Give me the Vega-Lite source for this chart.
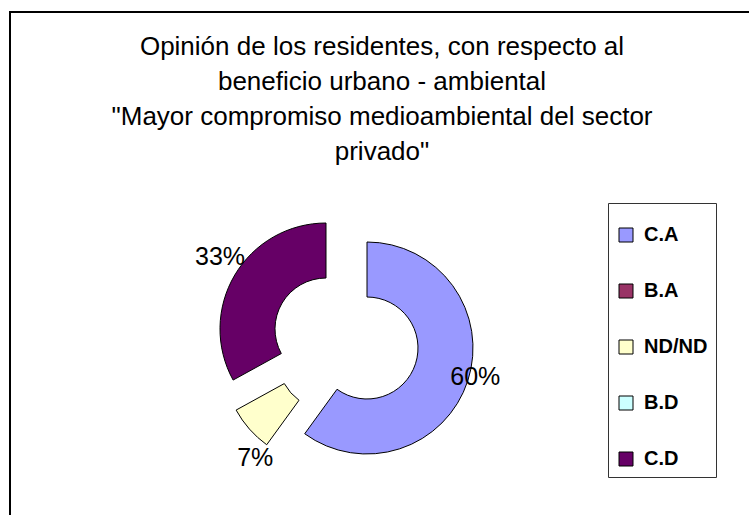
{
  "$schema": "https://vega.github.io/schema/vega-lite/v6.json",
  "autosize": {"type": "fit", "contains": "padding"},
  "width": 749,
  "height": 515,
  "padding": {"left": 9, "top": 11, "right": -10, "bottom": -10},
  "background": "white",
  "config": {
    "view": {"stroke": "black", "strokeWidth": 2},
    "font": "Liberation Sans"
  },
  "title": {
    "text": ["Opinión de los residentes, con respecto al", "beneficio urbano - ambiental", "\"Mayor compromiso medioambiental del sector", "privado\""],
    "font": "Liberation Sans",
    "fontSize": 26,
    "fontWeight": "normal",
    "lineHeight": 35,
    "color": "black",
    "anchor": "middle",
    "frame": "group",
    "offset": -154,
    "dx": -2
  },
  "data": {
    "values": [
      {"cat": "C.A", "value": 0.60, "order": 1},
      {"cat": "B.A", "value": 0.00, "order": 2},
      {"cat": "ND/ND", "value": 0.07, "order": 3},
      {"cat": "B.D", "value": 0.00, "order": 4},
      {"cat": "C.D", "value": 0.33, "order": 5}
    ]
  },
  "transform": [
    {"stack": "value", "groupby": [], "sort": [{"field": "order", "order": "ascending"}], "as": ["v0", "v1"]}
  ],
  "layer": [
    {
      "data": {"values": [{"frame": 1}]},
      "mark": {"type": "rect", "fill": "white", "stroke": "black", "strokeWidth": 2},
      "encoding": {}
    },
    {
      "transform": [{"filter": "datum.cat === 'C.A'"}],
      "mark": {"type": "arc", "outerRadius": 106, "innerRadius": 51, "stroke": "black", "strokeWidth": 1, "xOffset": -17, "yOffset": 80},
      "encoding": {
        "theta": {"field": "v0", "type": "quantitative", "scale": {"domain": [0, 1]}},
        "theta2": {"field": "v1"},
        "color": {"field": "cat", "type": "nominal"}
      }
    },
    {
      "transform": [{"filter": "datum.cat === 'ND/ND'"}],
      "mark": {"type": "arc", "outerRadius": 106, "innerRadius": 51, "stroke": "black", "strokeWidth": 1, "xOffset": -55, "yOffset": 91},
      "encoding": {
        "theta": {"field": "v0", "type": "quantitative", "scale": {"domain": [0, 1]}},
        "theta2": {"field": "v1"},
        "color": {"field": "cat", "type": "nominal"}
      }
    },
    {
      "transform": [{"filter": "datum.cat === 'C.D'"}],
      "mark": {"type": "arc", "outerRadius": 106, "innerRadius": 51, "stroke": "black", "strokeWidth": 1, "xOffset": -58, "yOffset": 61},
      "encoding": {
        "theta": {"field": "v0", "type": "quantitative", "scale": {"domain": [0, 1]}},
        "theta2": {"field": "v1"},
        "color": {
          "field": "cat",
          "type": "nominal",
          "scale": {
            "domain": ["C.A", "B.A", "ND/ND", "B.D", "C.D"],
            "range": ["#9999FF", "#993366", "#FFFFCC", "#CCFFFF", "#660066"]
          },
          "legend": {
            "title": " ",
            "titleFontSize": 10,
            "titlePadding": 4,
            "orient": "none",
            "legendX": 598,
            "legendY": 191,
            "padding": 8,
            "strokeColor": "#333333",
            "fillColor": "white",
            "symbolType": "square",
            "symbolSize": 196,
            "symbolStrokeColor": "black",
            "symbolStrokeWidth": 1,
            "symbolOpacity": 1,
            "labelFont": "Liberation Sans",
            "labelFontSize": 20,
            "labelFontWeight": "bold",
            "labelColor": "black",
            "labelOffset": 8,
            "rowPadding": 36
          }
        }
      }
    },
    {
      "mark": {"type": "text", "radius": 137, "fontSize": 25, "font": "Liberation Sans", "color": "black", "align": "center", "baseline": "middle", "xOffset": -39, "yOffset": 67},
      "encoding": {
        "theta": {"field": "value", "type": "quantitative", "stack": true},
        "order": {"field": "order", "type": "quantitative"},
        "text": {"field": "value", "type": "quantitative", "format": ".0%"},
        "opacity": {"condition": {"test": "datum.cat === 'C.A'", "value": 1}, "value": 0}
      }
    },
    {
      "mark": {"type": "text", "radius": 137, "fontSize": 25, "font": "Liberation Sans", "color": "black", "align": "center", "baseline": "middle", "xOffset": -26, "yOffset": 99},
      "encoding": {
        "theta": {"field": "value", "type": "quantitative", "stack": true},
        "order": {"field": "order", "type": "quantitative"},
        "text": {"field": "value", "type": "quantitative", "format": ".0%"},
        "opacity": {"condition": {"test": "datum.cat === 'ND/ND'", "value": 1}, "value": 0}
      }
    },
    {
      "mark": {"type": "text", "radius": 137, "fontSize": 25, "font": "Liberation Sans", "color": "black", "align": "center", "baseline": "middle", "xOffset": -46, "yOffset": 59},
      "encoding": {
        "theta": {"field": "value", "type": "quantitative", "stack": true},
        "order": {"field": "order", "type": "quantitative"},
        "text": {"field": "value", "type": "quantitative", "format": ".0%"},
        "opacity": {"condition": {"test": "datum.cat === 'C.D'", "value": 1}, "value": 0}
      }
    }
  ]
}
